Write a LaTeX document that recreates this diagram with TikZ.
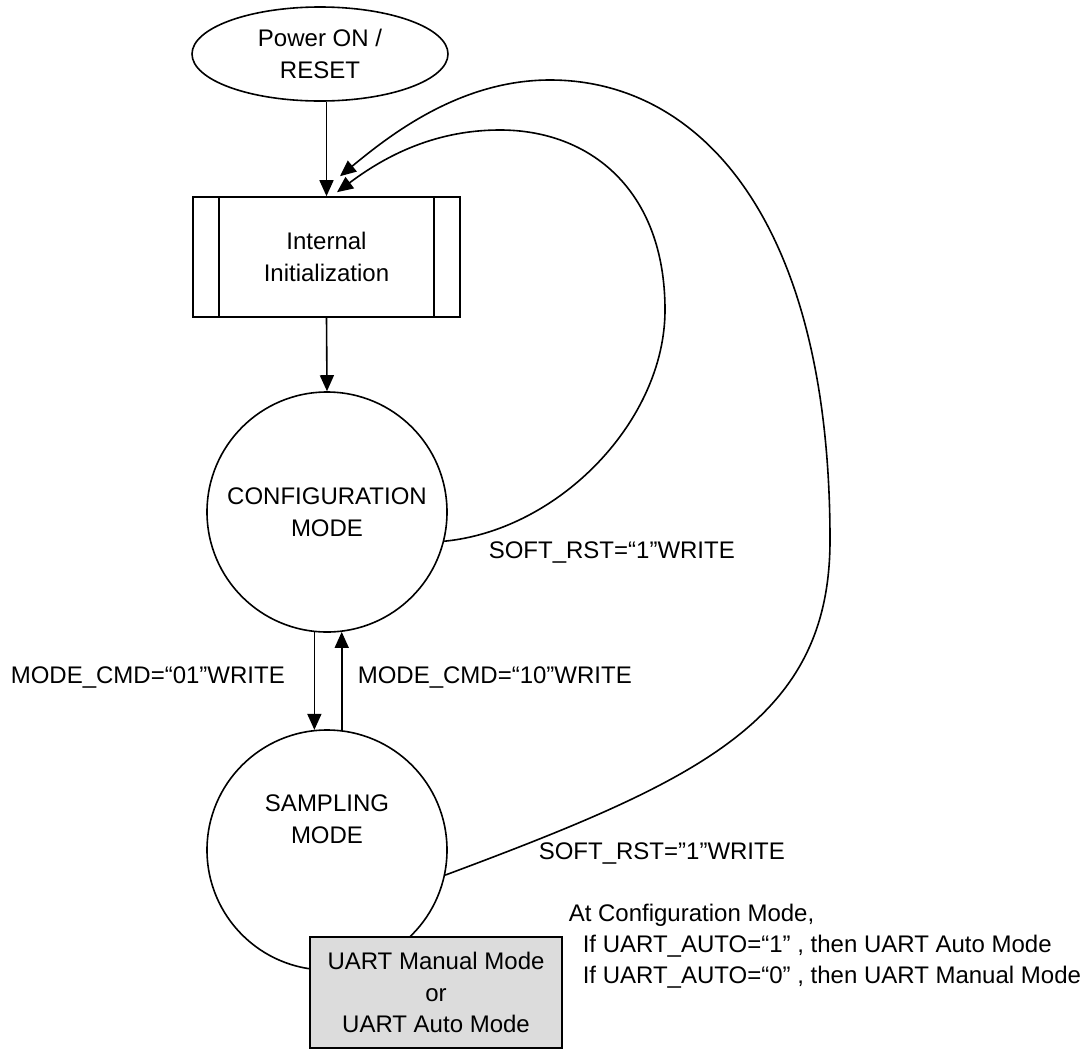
\documentclass[tikz,border=0pt]{standalone}
\usepackage{fontspec}
\setmainfont{Liberation Sans}
\usetikzlibrary{shapes.geometric,arrows.meta}
\definecolor{boxgray}{RGB}{220,220,220}
\begin{document}
\begin{tikzpicture}[x=1pt,y=-1pt,line width=1.6pt,
  every node/.style={font=\fontsize{24}{32}\selectfont},
  arr/.style={-{Triangle[length=16pt,width=14pt]}},
  shapebox/.style={draw,inner sep=0pt,align=center},
  lbl/.style={inner sep=0pt,anchor=west}]
\useasboundingbox (0,0) rectangle (1083,1050);

\node[shapebox,ellipse,minimum width=256pt,minimum height=94pt] (power) at (320,54) {Power ON /\\RESET};
\node[shapebox,minimum width=267pt,minimum height=120pt] (init) at (326.5,257) {Internal\\Initialization};
\draw ([xshift=27pt]init.north west) -- ([xshift=27pt]init.south west);
\draw ([xshift=-27pt]init.north east) -- ([xshift=-27pt]init.south east);
\node[shapebox,circle,minimum size=240pt] (conf) at (327,512) {CONFIGURATION\\MODE};
\node[shapebox,circle,minimum size=240pt] (samp) at (327,850) {};
\node[align=center,inner sep=0pt] (samptxt) at (327,819) {SAMPLING\\MODE};
\node[shapebox,fill=boxgray,minimum width=252pt,minimum height=111pt,font=\fontsize{24}{31.5}\selectfont] (uart) at (436,992.5) {UART Manual Mode\\or\\UART Auto Mode};

\node[lbl,align=left,font=\fontsize{24}{31}\selectfont] (note) at (568,946) {At Configuration Mode,\\\hspace*{14pt}If UART\_AUTO=“1” , then UART Auto Mode\\\hspace*{14pt}If UART\_AUTO=“0” , then UART Manual Mode};

\node[lbl] (l01) at (10,677) {MODE\_CMD=“01”WRITE};
\node[lbl] (l10) at (357,677) {MODE\_CMD=“10”WRITE};
\node[lbl] (s1) at (488,552) {SOFT\_RST=“1”WRITE};
\node[lbl] (s2) at (538,853) {SOFT\_RST=”1”WRITE};

\draw[arr] (init.north |- power.south) -- (init.north);
\draw[arr] (init.south) -- (conf.north);
\draw[arr] (conf.-96.2) -- (samp.96.2);
\draw[arr] (samp.83.8) -- (conf.-83.8);

\draw[arr] (conf.-14) .. controls (560,530) and (665,420) .. (665,310)
  .. controls (665,190) and (590,130) .. (500,130)
  .. controls (430,130) and (380,160) .. ([xshift=10.5pt,yshift=4pt]init.north);
\draw[arr] (samp.-12) .. controls (700,780) and (830,720) .. (830,540)
  .. controls (830,220) and (700,80) .. (550,80)
  .. controls (460,80) and (390,135) .. ([xshift=13.5pt,yshift=20pt]init.north);
\end{tikzpicture}
\end{document}
